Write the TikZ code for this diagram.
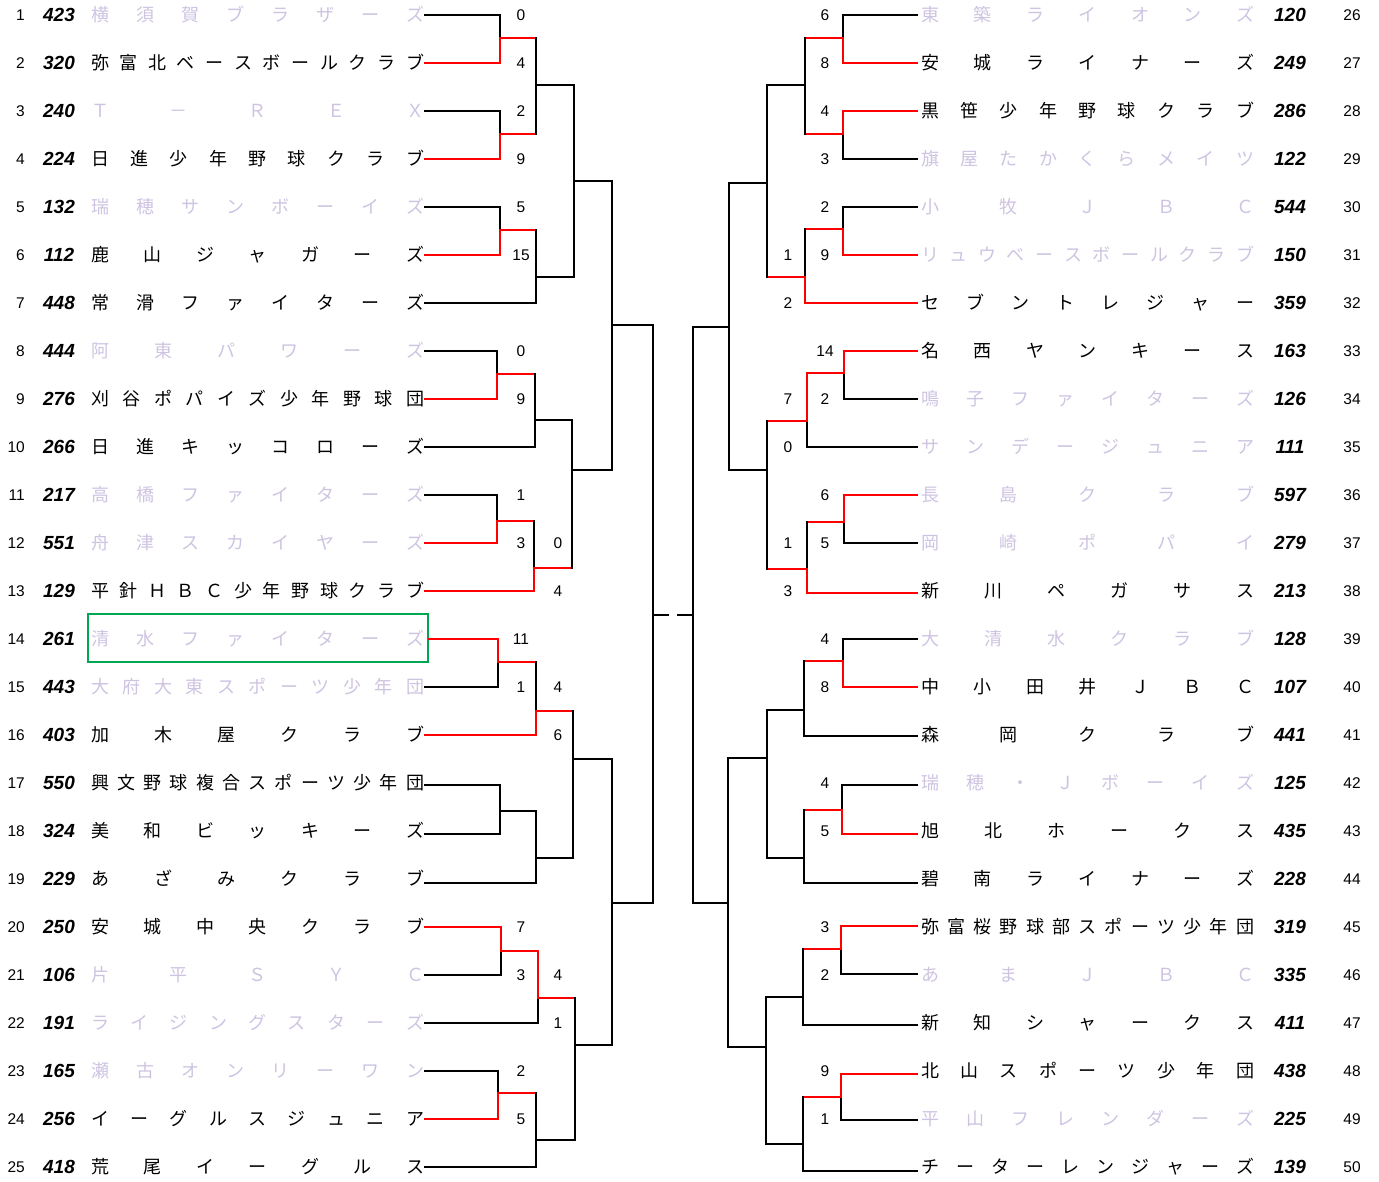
\documentclass[tikz,border=0pt]{standalone}
\usepackage{fontspec}
\setmainfont{Liberation Sans}
\newfontfamily\cjk{Noto Sans CJK JP}
\definecolor{lav}{RGB}{206,196,226}
\definecolor{gbox}{RGB}{0,166,80}

\ExplSyntaxOn
\fp_new:N \l_team_step_fp
\int_new:N \l_team_n_int
\int_new:N \l_team_i_int
\tl_new:N \l_team_x_tl
\tl_new:N \l_team_name_tl
\NewDocumentCommand \teamname { m m m m m m }
 {
  \int_set:Nn \l_team_n_int { \tl_count:n {#6} }
  \fp_set:Nn \l_team_step_fp { (#3 - #2) / (\l_team_n_int - 1) }
  \int_zero:N \l_team_i_int
  \tl_map_inline:nn {#6}
   {
    \tl_set:Nx \l_team_x_tl { \fp_eval:n { #2 + \l_team_i_int * \l_team_step_fp } }
    \int_incr:N \l_team_i_int
    \tl_set:Nx \l_team_name_tl { #1 c \int_use:N \l_team_i_int }
    \node [ nm , text = #5 , name = \l_team_name_tl ] ~ at ~ ( \l_team_x_tl , #4 ) { ##1 } ;
   }
 }
\ExplSyntaxOff

\newcommand\Lteam[4]{%
  \edef\yy{\the\numexpr 15+48*(#1-1)\relax}%
  \node[idx,anchor=east] (Li#1) at (25,\yy) {#1};
  \node[num] (Ln#1) at (59,\yy) {#2};
  \teamname{L#1}{100}{415}{\yy}{#3}{#4}%
}
\newcommand\Rteam[4]{%
  \edef\yy{\the\numexpr 15+48*(#1-26)\relax}%
  \node[idx] (Ri#1) at (1352,\yy) {#1};
  \node[num] (Rn#1) at (1290,\yy) {#2};
  \teamname{R#1}{930}{1245}{\yy}{#3}{#4}%
}
% match: x, ytop, yjoin, ybot, xout, style top, style bottom, style out
\newcommand\mt[8]{%
  \draw[#6] (#1,#2) -- (#1,#3);
  \draw[#7] (#1,#3) -- (#1,#4);
  \draw[#8] (#1,#3) -- (#5,#3);
}
\newcommand\tline[4]{\draw[#4] (#1,#3) -- (#2,#3);}
\newcommand\score[4]{\node[idx] (#1) at (#2,#3) {#4};}

\begin{document}
\begin{tikzpicture}[x=1pt,y=-1pt,
  bk/.style={draw=black,line width=2pt,line cap=rect},
  rd/.style={draw=red,line width=2pt,line cap=rect},
  nm/.style={inner sep=0pt,font=\cjk\fontsize{18}{18}\selectfont,text height=15pt,text depth=2pt},
  num/.style={inner sep=0pt,font=\fontsize{19}{19}\selectfont\bfseries\itshape,text height=13.6pt,text depth=0pt},
  idx/.style={inner sep=0pt,font=\fontsize{15.5}{15.5}\selectfont,text height=11pt,text depth=0pt}]
\useasboundingbox[fill=white] (0,0) rectangle (1379,1181);

% ---------------- left teams
\Lteam{1}{423}{lav}{横須賀ブラザーズ}
\Lteam{2}{320}{black}{弥富北ベースボールクラブ}
\Lteam{3}{240}{lav}{Ｔ－ＲＥＸ}
\Lteam{4}{224}{black}{日進少年野球クラブ}
\Lteam{5}{132}{lav}{瑞穂サンボーイズ}
\Lteam{6}{112}{black}{鹿山ジャガーズ}
\Lteam{7}{448}{black}{常滑ファイターズ}
\Lteam{8}{444}{lav}{阿東パワーズ}
\Lteam{9}{276}{black}{刈谷ポパイズ少年野球団}
\Lteam{10}{266}{black}{日進キッコローズ}
\Lteam{11}{217}{lav}{高橋ファイターズ}
\Lteam{12}{551}{lav}{舟津スカイヤーズ}
\Lteam{13}{129}{black}{平針ＨＢＣ少年野球クラブ}
\Lteam{14}{261}{lav}{清水ファイターズ}
\Lteam{15}{443}{lav}{大府大東スポーツ少年団}
\Lteam{16}{403}{black}{加木屋クラブ}
\Lteam{17}{550}{black}{興文野球複合スポーツ少年団}
\Lteam{18}{324}{black}{美和ビッキーズ}
\Lteam{19}{229}{black}{あざみクラブ}
\Lteam{20}{250}{black}{安城中央クラブ}
\Lteam{21}{106}{lav}{片平ＳＹＣ}
\Lteam{22}{191}{lav}{ライジングスターズ}
\Lteam{23}{165}{lav}{瀬古オンリーワン}
\Lteam{24}{256}{black}{イーグルスジュニア}
\Lteam{25}{418}{black}{荒尾イーグルス}

% ---------------- right teams
\Rteam{26}{120}{lav}{東築ライオンズ}
\Rteam{27}{249}{black}{安城ライナーズ}
\Rteam{28}{286}{black}{黒笹少年野球クラブ}
\Rteam{29}{122}{lav}{旗屋たかくらメイツ}
\Rteam{30}{544}{lav}{小牧ＪＢＣ}
\Rteam{31}{150}{lav}{リュウベースボールクラブ}
\Rteam{32}{359}{black}{セブントレジャー}
\Rteam{33}{163}{black}{名西ヤンキース}
\Rteam{34}{126}{lav}{鳴子ファイターズ}
\Rteam{35}{111}{lav}{サンデージュニア}
\Rteam{36}{597}{lav}{長島クラブ}
\Rteam{37}{279}{lav}{岡崎ポパイ}
\Rteam{38}{213}{black}{新川ペガサス}
\Rteam{39}{128}{lav}{大清水クラブ}
\Rteam{40}{107}{black}{中小田井ＪＢＣ}
\Rteam{41}{441}{black}{森岡クラブ}
\Rteam{42}{125}{lav}{瑞穂・Ｊボーイズ}
\Rteam{43}{435}{black}{旭北ホークス}
\Rteam{44}{228}{black}{碧南ライナーズ}
\Rteam{45}{319}{black}{弥富桜野球部スポーツ少年団}
\Rteam{46}{335}{lav}{あまＪＢＣ}
\Rteam{47}{411}{black}{新知シャークス}
\Rteam{48}{438}{black}{北山スポーツ少年団}
\Rteam{49}{225}{lav}{平山フレンダーズ}
\Rteam{50}{139}{black}{チーターレンジャーズ}

% ---------------- highlight box
\draw[gbox,line width=2.5pt] (88,614) rectangle (428,662);

% ---------------- left team lines
\tline{425}{500}{15}{bk}
\tline{425}{500}{63}{rd}
\tline{425}{500}{111}{bk}
\tline{425}{500}{159}{rd}
\tline{425}{500}{207}{bk}
\tline{425}{500}{255}{rd}
\tline{425}{536}{303}{bk}
\tline{425}{497}{351}{bk}
\tline{425}{497}{399}{rd}
\tline{425}{535}{447}{bk}
\tline{425}{497}{495}{bk}
\tline{425}{497}{543}{rd}
\tline{425}{534}{591}{rd}
\tline{429}{498}{639}{rd}
\tline{425}{498}{687}{bk}
\tline{425}{536}{735}{rd}
\tline{425}{500}{785}{bk}
\tline{425}{500}{834}{bk}
\tline{425}{536}{883}{bk}
\tline{425}{501}{927}{rd}
\tline{425}{501}{975}{bk}
\tline{425}{538}{1023}{bk}
\tline{425}{498}{1071}{bk}
\tline{425}{498}{1119}{rd}
\tline{425}{536}{1167}{bk}

% ---------------- left matches
\mt{500}{15}{38}{63}{536}{bk}{rd}{rd}
\mt{500}{111}{134}{159}{536}{bk}{rd}{rd}
\mt{500}{207}{230}{255}{536}{bk}{rd}{rd}
\mt{536}{38}{85}{134}{574}{bk}{bk}{bk}
\mt{536}{230}{277}{303}{574}{bk}{bk}{bk}
\mt{574}{85}{181}{277}{612}{bk}{bk}{bk}
\mt{497}{351}{374}{399}{535}{bk}{rd}{rd}
\mt{535}{374}{420}{447}{572}{bk}{bk}{bk}
\mt{497}{495}{521}{543}{534}{bk}{rd}{rd}
\mt{534}{521}{568}{591}{572}{bk}{rd}{rd}
\mt{572}{420}{470}{568}{612}{bk}{bk}{bk}
\mt{612}{181}{325}{470}{653}{bk}{bk}{bk}
\mt{498}{639}{662}{687}{536}{rd}{bk}{rd}
\mt{536}{662}{711}{735}{573}{bk}{rd}{rd}
\mt{500}{785}{811}{834}{536}{bk}{bk}{bk}
\mt{536}{811}{858}{883}{573}{bk}{bk}{bk}
\mt{573}{711}{759}{858}{612}{bk}{bk}{bk}
\mt{501}{927}{951}{975}{538}{rd}{bk}{rd}
\mt{538}{951}{998}{1023}{575}{rd}{bk}{rd}
\mt{498}{1071}{1093}{1119}{536}{bk}{rd}{rd}
\mt{536}{1093}{1140}{1167}{575}{bk}{bk}{bk}
\mt{575}{998}{1045}{1140}{612}{bk}{bk}{bk}
\mt{612}{759}{903}{1045}{653}{bk}{bk}{bk}
\mt{653}{325}{615}{903}{668}{bk}{bk}{bk}

% ---------------- right team lines
\tline{917}{843}{15}{bk}
\tline{917}{843}{63}{rd}
\tline{917}{843}{111}{rd}
\tline{917}{843}{159}{bk}
\tline{917}{843}{207}{bk}
\tline{917}{843}{255}{rd}
\tline{917}{805}{303}{rd}
\tline{917}{844}{351}{rd}
\tline{917}{844}{399}{bk}
\tline{917}{807}{447}{bk}
\tline{917}{844}{495}{rd}
\tline{917}{844}{543}{bk}
\tline{917}{807}{593}{rd}
\tline{917}{843}{639}{bk}
\tline{917}{843}{687}{rd}
\tline{917}{804}{736}{bk}
\tline{917}{842}{785}{bk}
\tline{917}{842}{834}{rd}
\tline{917}{804}{883}{bk}
\tline{917}{841}{926}{rd}
\tline{917}{841}{974}{bk}
\tline{917}{803}{1025}{bk}
\tline{917}{841}{1074}{rd}
\tline{917}{841}{1120}{bk}
\tline{917}{803}{1171}{bk}

% ---------------- right matches
\mt{843}{15}{38}{63}{805}{bk}{rd}{rd}
\mt{843}{111}{134}{159}{805}{rd}{bk}{rd}
\mt{805}{38}{85}{134}{767}{bk}{bk}{bk}
\mt{843}{207}{229}{255}{805}{bk}{rd}{rd}
\mt{805}{229}{277}{303}{767}{bk}{rd}{rd}
\mt{767}{85}{183}{277}{729}{bk}{bk}{bk}
\mt{844}{351}{373}{399}{807}{rd}{bk}{rd}
\mt{807}{373}{421}{447}{767}{rd}{bk}{rd}
\mt{844}{495}{522}{543}{807}{rd}{bk}{rd}
\mt{807}{522}{569}{593}{767}{bk}{rd}{rd}
\mt{767}{421}{470}{569}{729}{bk}{bk}{bk}
\mt{729}{183}{327}{470}{693}{bk}{bk}{bk}
\mt{843}{639}{661}{687}{804}{bk}{rd}{rd}
\mt{804}{661}{710}{736}{767}{bk}{bk}{bk}
\mt{842}{785}{810}{834}{804}{bk}{rd}{rd}
\mt{804}{810}{858}{883}{767}{bk}{bk}{bk}
\mt{767}{710}{758}{858}{728}{bk}{bk}{bk}
\mt{841}{926}{949}{974}{803}{rd}{bk}{rd}
\mt{803}{949}{997}{1025}{766}{bk}{bk}{bk}
\mt{841}{1074}{1097}{1120}{803}{rd}{bk}{rd}
\mt{803}{1097}{1144}{1171}{766}{bk}{bk}{bk}
\mt{766}{997}{1047}{1144}{728}{bk}{bk}{bk}
\mt{728}{758}{903}{1047}{693}{bk}{bk}{bk}
\mt{693}{327}{615}{903}{678}{bk}{bk}{bk}

% ---------------- scores left
\score{sa1}{521}{15}{0}
\score{sa2}{521}{63}{4}
\score{sa3}{521}{111}{2}
\score{sa4}{521}{159}{9}
\score{sa5}{521}{207}{5}
\score{sa6}{521}{255}{15}
\score{sa8}{521}{351}{0}
\score{sa9}{521}{399}{9}
\score{sa11}{521}{495}{1}
\score{sa12}{521}{543}{3}
\score{sa14}{521}{639}{11}
\score{sa15}{521}{687}{1}
\score{sa20}{521}{927}{7}
\score{sa21}{521}{975}{3}
\score{sa23}{521}{1071}{2}
\score{sa24}{521}{1119}{5}
\score{sb12}{558}{543}{0}
\score{sb13}{558}{591}{4}
\score{sb15}{558}{687}{4}
\score{sb16}{558}{735}{6}
\score{sb21}{558}{975}{4}
\score{sb22}{558}{1023}{1}
% ---------------- scores right
\score{sc26}{825}{15}{6}
\score{sc27}{825}{63}{8}
\score{sc28}{825}{111}{4}
\score{sc29}{825}{159}{3}
\score{sc30}{825}{207}{2}
\score{sc31}{825}{255}{9}
\score{sc33}{825}{351}{14}
\score{sc34}{825}{399}{2}
\score{sc36}{825}{495}{6}
\score{sc37}{825}{543}{5}
\score{sc39}{825}{639}{4}
\score{sc40}{825}{687}{8}
\score{sc42}{825}{783}{4}
\score{sc43}{825}{831}{5}
\score{sc45}{825}{927}{3}
\score{sc46}{825}{975}{2}
\score{sc48}{825}{1071}{9}
\score{sc49}{825}{1119}{1}
\score{sd31}{788}{255}{1}
\score{sd32}{788}{303}{2}
\score{sd34}{788}{399}{7}
\score{sd35}{788}{447}{0}
\score{sd37}{788}{543}{1}
\score{sd38}{788}{591}{3}
\end{tikzpicture}
\end{document}
